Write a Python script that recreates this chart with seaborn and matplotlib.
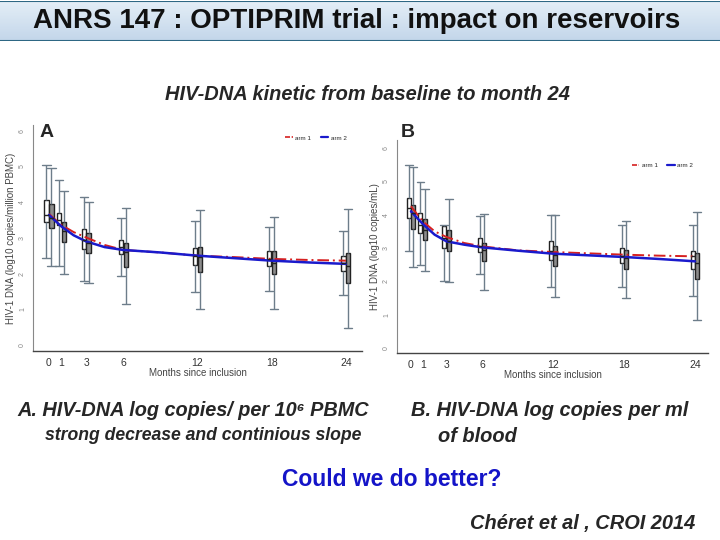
import numpy as np
import pandas as pd
import seaborn as sns
import matplotlib.pyplot as plt
from matplotlib.lines import Line2D

# months of follow-up
months = [0, 1, 3, 6, 12, 18, 24]

# box summaries per month: [whisker low, q1, median, q3, whisker high]
# panel A : log10 copies / million PBMC
a_arm1 = [[2.43, 3.44, 3.64, 4.07, 5.03],
          [2.21, 3.36, 3.50, 3.69, 4.61],
          [1.80, 2.68, 2.95, 3.25, 4.14],
          [1.93, 2.55, 2.75, 2.94, 3.55],
          [1.48, 2.24, 2.50, 2.71, 3.48],
          [1.51, 2.20, 2.40, 2.64, 3.30],
          [1.40, 2.07, 2.30, 2.50, 3.18]]
a_arm2 = [[2.22, 3.27, 3.55, 3.94, 4.95],
          [1.99, 2.88, 3.20, 3.44, 4.30],
          [1.73, 2.57, 2.85, 3.13, 3.99],
          [1.15, 2.18, 2.60, 2.85, 3.83],
          [1.01, 2.04, 2.45, 2.74, 3.79],
          [1.01, 1.98, 2.30, 2.62, 3.57],
          [0.47, 1.73, 2.20, 2.57, 3.81]]
# panel B : log10 copies / mL
b_arm1 = [[2.92, 3.90, 4.20, 4.50, 5.48],
          [2.48, 3.45, 3.70, 4.05, 4.97],
          [2.02, 3.00, 3.30, 3.65, 3.70],
          [2.22, 2.88, 3.05, 3.30, 3.95],
          [1.82, 2.65, 2.90, 3.20, 4.00],
          [1.82, 2.55, 2.75, 3.00, 3.70],
          [1.57, 2.38, 2.75, 2.92, 3.70]]
b_arm2 = [[2.43, 3.57, 4.05, 4.30, 5.42],
          [2.32, 3.23, 3.55, 3.87, 4.78],
          [1.98, 2.90, 3.20, 3.53, 4.47],
          [1.75, 2.62, 2.95, 3.15, 4.02],
          [1.52, 2.45, 2.80, 3.05, 4.00],
          [1.50, 2.38, 2.70, 2.93, 3.82],
          [0.83, 2.08, 2.55, 2.85, 4.08]]

# smoothed kinetic curves
curve_months = [0, 1, 2, 3, 4.5, 6, 9, 12, 15, 18, 21, 24]
a_fit1 = [3.67, 3.36, 3.16, 3.01, 2.80, 2.66, 2.59, 2.50, 2.46, 2.41, 2.38, 2.36]
a_fit2 = [3.64, 3.32, 3.07, 2.90, 2.74, 2.66, 2.59, 2.50, 2.43, 2.36, 2.31, 2.27]
b_fit1 = [4.25, 3.80, 3.50, 3.33, 3.15, 3.05, 2.93, 2.88, 2.84, 2.80, 2.77, 2.75]
b_fit2 = [4.10, 3.72, 3.40, 3.20, 3.10, 3.02, 2.92, 2.83, 2.78, 2.73, 2.67, 2.60]

sns.set_style('white')
plt.rcParams['font.family'] = ['Liberation Sans', 'DejaVu Sans']

fig = plt.figure(figsize=(7.2, 5.4), dpi=100)

#%% title banner
ban = fig.add_axes([0, 1 - 41 / 540, 1, 40 / 540])
grad = np.linspace(0, 1, 50).reshape(-1, 1)
ban.imshow(grad, aspect='auto', cmap=sns.blend_palette(['#e4eef7', '#c3d6ea'], as_cmap=True),
           extent=[0, 1, 0, 1])
ban.set_xlim(0, 1)
ban.set_ylim(0, 1)
ban.set_xticks([])
ban.set_yticks([])
for s in ban.spines.values():
    s.set_visible(False)
ban.axhline(0.99, color='#2e6784', lw=1.5)
ban.axhline(0.01, color='#2e6784', lw=1.5)
ban.text(0.496, 0.5, 'ANRS 147 : OPTIPRIM trial : impact on reservoirs', ha='center', va='center',
         fontsize=20, fontweight='bold', color='#111111')


def to_frame(arm1, arm2):
    rows = []
    for arm, summ in (('arm 1', arm1), ('arm 2', arm2)):
        for m, vals in zip(months, summ):
            for v in vals:
                rows.append({'month': m, 'arm': arm, 'value': v})
    return pd.DataFrame(rows)


def panel(rect, arm1, arm2, fit1, fit2, xlim, ylim, ylabel, leg_anchor):
    ax = fig.add_axes(rect)
    df = to_frame(arm1, arm2)
    sns.boxplot(data=df, x='month', y='value', hue='arm', native_scale=True,
                palette={'arm 1': 'white', 'arm 2': '#8c8c8c'}, linecolor='#222222',
                whis=(0, 100), width=0.8, gap=0.15, linewidth=1, legend=False,
                whiskerprops={'color': '#6d7d8a'}, capprops={'color': '#6d7d8a'}, ax=ax)
    # wider whisker caps, R style
    for cont in ax.containers:
        for cap in getattr(cont, 'caps', []):
            xs = cap.get_xdata()
            c = np.mean(xs)
            cap.set_xdata([c - 0.33, c + 0.33])
    sns.lineplot(x=curve_months, y=fit1, color='#d62020', lw=1.4,
                 linestyle=(0, (6, 2, 1, 2)), ax=ax)
    sns.lineplot(x=curve_months, y=fit2, color='#1a1acc', lw=1.8, ax=ax)
    ax.set_xlim(*xlim)
    ax.set_ylim(*ylim)
    ax.set_xticks(months)
    ax.set_xticklabels([str(m) for m in months], fontsize=7.5, color='#333333')
    ax.set_yticks(range(7))
    ax.set_yticklabels([str(v) for v in range(7)], fontsize=5, color='#888888', rotation=90, va='center')
    ax.tick_params(axis='both', length=3, width=0.6, color='#888888', pad=2)
    ax.tick_params(axis='x', color='#333333')
    ax.set_xlabel('Months since inclusion', fontsize=7, color='#444444', labelpad=0)
    ax.set_ylabel(ylabel, fontsize=7, color='#444444', labelpad=2)
    sns.despine(ax=ax)
    ax.spines['left'].set_color('#888888')
    ax.spines['bottom'].set_color('#444444')
    ax.spines['left'].set_linewidth(0.8)
    ax.spines['bottom'].set_linewidth(1)
    handles = [Line2D([], [], color='#d62020', lw=1.2, linestyle=(0, (3, 1, 1, 1))),
               Line2D([], [], color='#1a1acc', lw=1.6)]
    ax.legend(handles, ['arm 1', 'arm 2'], ncol=2, fontsize=4.5, frameon=False,
              loc='upper right', bbox_to_anchor=leg_anchor, handlelength=1.2,
              columnspacing=1.5, handletextpad=0.4)
    return ax


panel([33 / 720, 1 - 351 / 540, 329 / 720, 226 / 540], a_arm1, a_arm2, a_fit1, a_fit2,
      (-1.29, 25.3), (-0.17, 6.16), 'HIV-1 DNA (log10 copies/million PBMC)', (0.97, 0.98))
panel([397 / 720, 1 - 353 / 540, 311 / 720, 213 / 540], b_arm1, b_arm2, b_fit1, b_fit2,
      (-1.18, 25.1), (-0.15, 6.24), 'HIV-1 DNA (log10 copies/mL)', (0.97, 0.92))

#%% slide texts
fig.text(47 / 720, 1 - 133 / 540, 'A', ha='center', va='center', fontsize=14, fontweight='bold')
fig.text(408 / 720, 1 - 133 / 540, 'B', ha='center', va='center', fontsize=14, fontweight='bold')
fig.text(367 / 720, 1 - 95 / 540, 'HIV-DNA kinetic from baseline to month 24', ha='center', va='center',
         fontsize=14.4, fontweight='bold', style='italic')
fig.text(17 / 720, 1 - 411 / 540, 'A. HIV-DNA log copies/ per 10\u2076 PBMC', ha='left', va='center',
         fontsize=14.3, fontweight='bold', style='italic')
fig.text(45 / 720, 1 - 435 / 540, 'strong decrease and continious slope', ha='left', va='center',
         fontsize=12.7, fontweight='bold', style='italic')
fig.text(411 / 720, 1 - 411 / 540, 'B. HIV-DNA log copies per ml', ha='left', va='center',
         fontsize=14.4, fontweight='bold', style='italic')
fig.text(438 / 720, 1 - 436 / 540, 'of blood', ha='left', va='center',
         fontsize=14.4, fontweight='bold', style='italic')
fig.text(392 / 720, 1 - 479 / 540, 'Could we do better?', ha='center', va='center',
         fontsize=16.5, fontweight='bold', color='#1414c8')
fig.text(695 / 720, 1 - 523 / 540, 'Chéret et al , CROI 2014', ha='right', va='center',
         fontsize=14.4, fontweight='bold', style='italic')

fig.savefig('out.png', dpi=100)
